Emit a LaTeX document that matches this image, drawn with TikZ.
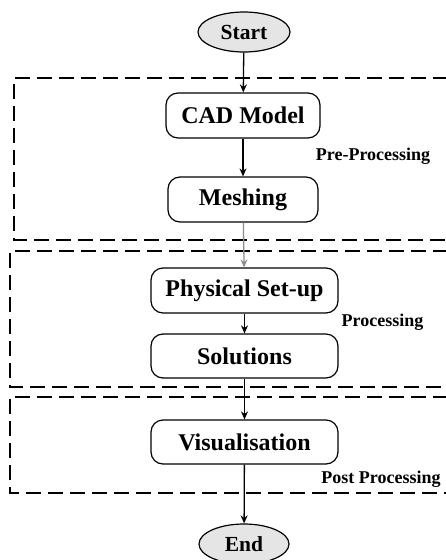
\documentclass[tikz,border=0pt]{standalone}
\usepackage{fontspec}
\setmainfont{Liberation Serif}
\usetikzlibrary{arrows.meta,shapes.geometric}
\begin{document}
\begin{tikzpicture}[x=1pt,y=-1pt,
  stepbox/.style={draw,line width=1.2pt,rounded corners=12pt,font=\fontsize{24}{26}\selectfont\bfseries,inner sep=0pt},
  term/.style={draw,ellipse,line width=1.2pt,fill=black!10,minimum width=92pt,minimum height=40pt,inner sep=0pt,font=\fontsize{21.5}{24}\selectfont\bfseries},
  grp/.style={draw,dashed,dash pattern=on 15pt off 7pt,line width=1.4pt},
  lbl/.style={font=\fontsize{18}{20}\selectfont\bfseries,inner sep=0pt},
  arr/.style={-{Stealth[length=8pt,width=7pt]},line width=1.3pt}]
\useasboundingbox (0,0) rectangle (446,560);
\clip (0,0) rectangle (446,560);
\draw[grp] (470,78) -- (14,78) -- (14,240) -- (470,240);
\draw[grp] (470,251) -- (10,251) -- (10,387) -- (470,387);
\draw[grp] (470,397) -- (10,397) -- (10,493) -- (470,493);
\node[term] (start) at (244,32) {Start};
\node[stepbox,minimum width=154pt,minimum height=45pt] (cad) at (243,115.5) {CAD Model};
\node[stepbox,minimum width=150pt,minimum height=45pt] (mesh) at (243,199.5) {Meshing};
\node[stepbox,minimum width=187pt,minimum height=45pt] (phys) at (244.5,290.5) {Physical Set-up};
\node[stepbox,minimum width=187pt,minimum height=44pt] (sol) at (244.5,356) {Solutions};
\node[stepbox,minimum width=187pt,minimum height=44pt] (vis) at (244.5,442) {Visualisation};
\node[term,minimum width=90pt] (end) at (244,544) {End};
\node[lbl] (lpre) at (373,156) {Pre-Processing};
\node[lbl] (lproc) at (382.5,322) {Processing};
\node[lbl] (lpost) at (381,479) {Post Processing};
\draw[arr] (start) -- (cad);
\draw[arr] (cad) -- (mesh);
\draw[arr,draw=black!45,color=black!45] (mesh) -- (phys);
\draw[arr] (phys) -- (sol);
\draw[arr] (sol) -- (vis);
\draw[arr] (vis) -- (end);
\end{tikzpicture}
\end{document}
